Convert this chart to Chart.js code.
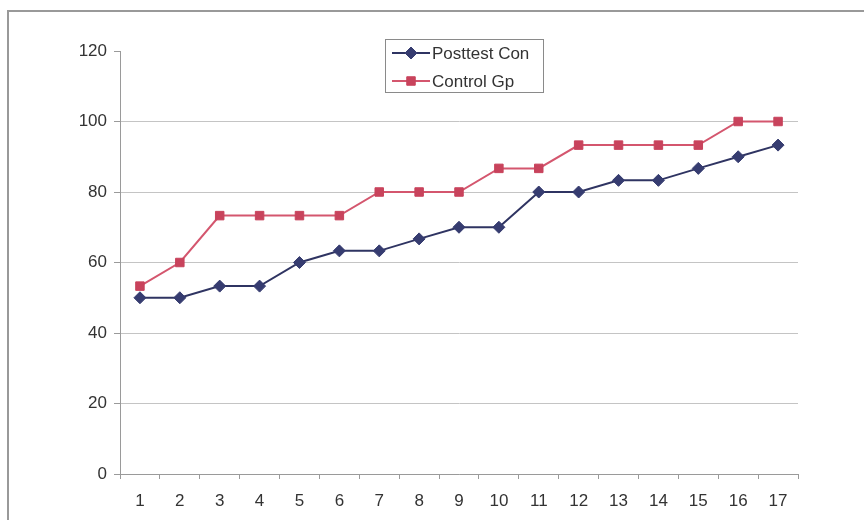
<!DOCTYPE html>
<html>
<head>
<meta charset="utf-8">
<script src="https://cdn.jsdelivr.net/npm/chart.js@4/dist/chart.umd.min.js"></script>
<style>
  html, body { margin: 0; padding: 0; background: #fff; }
  #wrap { width: 864px; height: 520px; position: relative; }
</style>
</head>
<body>
<div id="wrap"><canvas id="c" width="864" height="520"></canvas></div>
<script>
// Categories (students ranked 1..17) and scores of the two groups
const categories = ['1','2','3','4','5','6','7','8','9','10','11','12','13','14','15','16','17'];
const posttestCon = [50, 50, 53.3, 53.3, 60, 63.3, 63.3, 66.7, 70, 70, 80, 80, 83.3, 83.3, 86.7, 90, 93.3];
const controlGp   = [53.3, 60, 73.3, 73.3, 73.3, 73.3, 80, 80, 80, 86.7, 86.7, 93.3, 93.3, 93.3, 93.3, 100, 100];
const seriesNames = ['Posttest Con', 'Control Gp'];
const yTicks = { min: 0, max: 120, step: 20 };

const FONT = 'Liberation Sans, Arial, sans-serif';
const TEXT = '#333';
const AXIS = '#9a9a9a';
const GRID = '#c4c4c4';

const NAVY = '#2f3462';
const NAVY_PT = '#363c70';
const RED = '#d4566e';
const RED_PT = '#c8435c';

// Outer frame of the chart sheet
const framePlugin = {
  id: 'frame',
  beforeDraw(chart) {
    const ctx = chart.ctx;
    ctx.save();
    ctx.fillStyle = '#fff';
    ctx.fillRect(0, 0, chart.width, chart.height);
    ctx.strokeStyle = '#999';
    ctx.lineWidth = 2;
    ctx.beginPath();
    ctx.moveTo(8, chart.height + 2);
    ctx.lineTo(8, 11);
    ctx.lineTo(chart.width + 2, 11);
    ctx.stroke();
    ctx.restore();
  }
};

// Boxed legend with line-and-marker samples
const boxLegend = {
  id: 'boxLegend',
  afterDraw(chart) {
    const ctx = chart.ctx;
    ctx.save();
    ctx.strokeStyle = '#8a8a8a';
    ctx.lineWidth = 1;
    ctx.strokeRect(385.5, 39.5, 158, 53);
    ctx.font = '17px ' + FONT;
    ctx.textBaseline = 'middle';
    ctx.textAlign = 'left';
    const rows = [53, 81];
    chart.data.datasets.forEach((ds, i) => {
      const y = rows[i];
      ctx.strokeStyle = ds.borderColor;
      ctx.lineWidth = 2;
      ctx.beginPath();
      ctx.moveTo(392, y);
      ctx.lineTo(430, y);
      ctx.stroke();
      ctx.fillStyle = ds.pointBackgroundColor;
      ctx.strokeStyle = ds.pointBorderColor;
      ctx.lineWidth = 1;
      Chart.helpers.drawPoint(ctx, { pointStyle: ds.pointStyle, radius: ds.pointRadius, borderWidth: 1 }, 411, y);
      ctx.fillStyle = TEXT;
      ctx.fillText(ds.label, 432, y + 1);
    });
    ctx.restore();
  }
};

new Chart(document.getElementById('c'), {
  type: 'line',
  data: {
    labels: categories,
    datasets: [
      {
        label: seriesNames[0],
        data: posttestCon,
        borderColor: NAVY,
        borderWidth: 2,
        pointStyle: 'rectRot',
        pointRadius: 6,
        pointBackgroundColor: NAVY_PT,
        pointBorderColor: NAVY_PT,
        pointBorderWidth: 1,
        tension: 0,
        fill: false
      },
      {
        label: seriesNames[1],
        data: controlGp,
        borderColor: RED,
        borderWidth: 2,
        pointStyle: 'rect',
        pointRadius: 6,
        pointBackgroundColor: RED_PT,
        pointBorderColor: RED_PT,
        pointBorderWidth: 1,
        tension: 0,
        fill: false
      }
    ]
  },
  options: {
    responsive: false,
    animation: false,
    devicePixelRatio: 1,
    layout: { padding: { left: 0, top: 51, right: 66, bottom: 0 } },
    plugins: {
      legend: { display: false },
      tooltip: { enabled: false }
    },
    scales: {
      x: {
        type: 'category',
        offset: true,
        grid: {
          offset: true,
          drawOnChartArea: false,
          tickLength: 5,
          color: AXIS,
          tickColor: AXIS
        },
        border: { color: AXIS, width: 1 },
        ticks: {
          color: TEXT,
          font: { family: FONT, size: 17 },
          padding: 12,
          maxRotation: 0,
          autoSkip: false
        },
        afterFit(scale) { scale.height = 46; }
      },
      y: {
        min: yTicks.min,
        max: yTicks.max,
        grid: {
          tickLength: 6,
          color: (c) => (c.tick && c.tick.value === yTicks.max) ? 'rgba(0,0,0,0)' : GRID,
          tickColor: AXIS
        },
        border: { color: AXIS, width: 1 },
        ticks: {
          stepSize: yTicks.step,
          color: TEXT,
          font: { family: FONT, size: 17 },
          padding: 7
        },
        afterFit(scale) { scale.width = 120; }
      }
    }
  },
  plugins: [framePlugin, boxLegend]
});
</script>
</body>
</html>
